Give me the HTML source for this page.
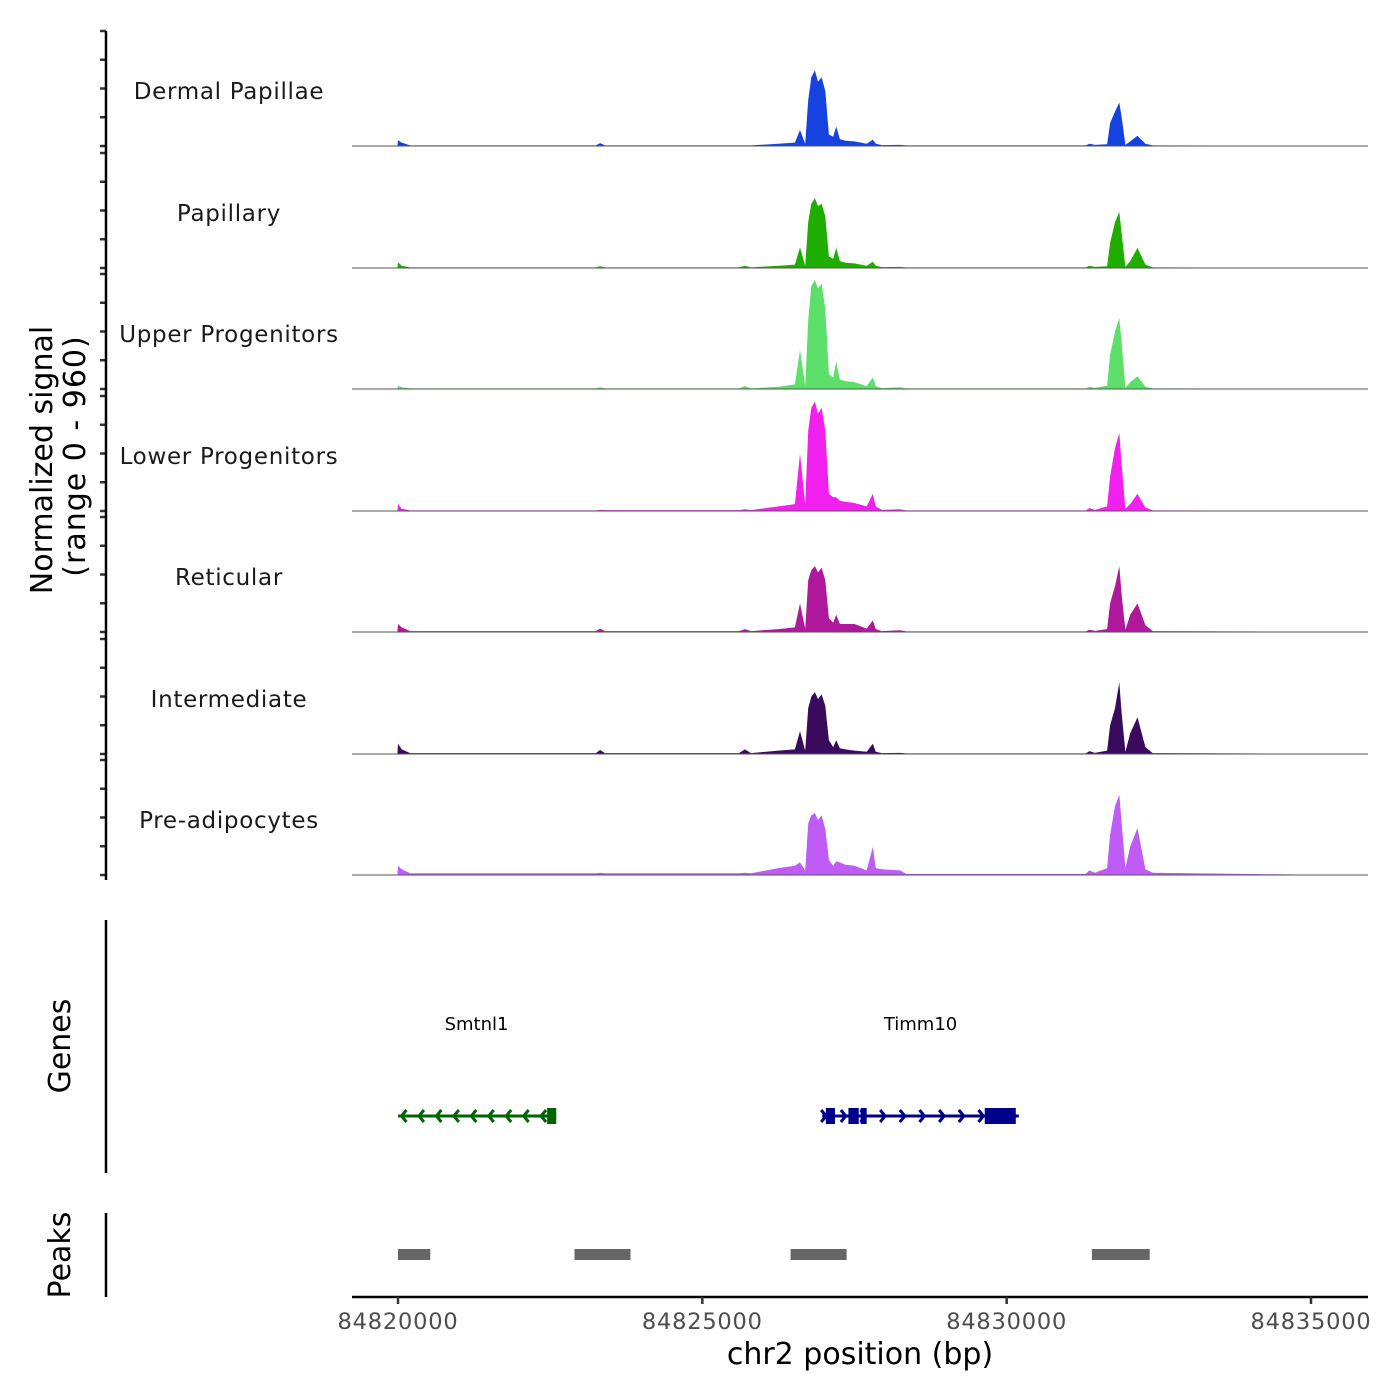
<!DOCTYPE html>
<html><head><meta charset="utf-8"><style>
html,body{margin:0;padding:0;background:#fff;}
svg{display:block;font-family:"DejaVu Sans","Liberation Sans",sans-serif;}
</style></head><body>
<svg id="c" width="1400" height="1400" viewBox="0 0 1400 1400"></svg>
<script>
const trackNames = ["Dermal Papillae","Papillary","Upper Progenitors","Lower Progenitors","Reticular","Intermediate","Pre-adipocytes"];
const trackColors = ["#1642e0","#1fae00","#5de06a","#f220ef","#b0189c","#3a0a5c","#c05cf6"];
const positions = [84819990,84820000,84820060,84820200,84823250,84823320,84823400,84825600,84825700,84825800,84826250,84826520,84826605,84826690,84826740,84826790,84826850,84826900,84826960,84827020,84827080,84827150,84827200,84827260,84827350,84827500,84827700,84827800,84827850,84827950,84828250,84828350,84831300,84831360,84831450,84831650,84831700,84831780,84831850,84831890,84831950,84832030,84832150,84832280,84832400,84835000];
const sigDermal = [0,50,30,5,5,25,5,5,5,5,20,30,140,20,400,600,660,560,600,480,100,80,170,60,45,40,20,55,20,8,10,5,5,20,10,15,200,300,380,250,10,40,90,20,5,3];
const sigPapillary = [0,50,20,5,5,15,5,5,20,5,20,30,180,20,400,560,610,540,560,450,100,80,175,60,45,40,20,55,20,8,10,5,5,20,10,15,220,400,490,300,10,60,175,30,5,3];
const sigUpper = [0,30,15,5,5,15,5,5,25,5,20,40,340,30,600,900,950,880,920,700,130,100,240,80,70,60,25,100,25,8,15,5,5,20,10,30,300,500,620,400,10,60,110,20,5,3];
const sigLower = [0,60,20,5,5,10,8,8,15,8,40,60,500,60,700,900,955,850,900,700,150,120,120,90,80,70,40,150,40,10,15,5,5,25,10,40,300,550,680,400,20,60,150,30,5,3];
const sigReticular = [0,70,40,8,8,30,8,8,25,8,25,40,250,30,450,540,575,520,560,450,120,80,150,70,70,70,30,100,25,8,15,5,5,20,10,25,250,400,575,320,20,150,250,60,8,3];
const sigIntermediate = [0,90,40,8,8,35,8,8,40,8,30,40,200,30,400,500,540,480,520,420,120,60,120,50,40,30,20,90,20,8,10,5,5,25,10,30,250,400,625,350,20,180,320,60,8,3];
const sigPreadipo = [0,80,50,15,15,20,15,15,20,15,60,80,110,40,450,520,540,480,520,400,130,80,120,110,90,80,40,245,60,50,40,10,10,40,20,60,350,600,700,450,60,250,410,50,20,3];
const signals = [sigDermal,sigPapillary,sigUpper,sigLower,sigReticular,sigIntermediate,sigPreadipo];
const xTicks = [84820000,84825000,84830000,84835000];
const peakStarts = [84820000,84822900,84826450,84831400];
const peakEnds = [84820530,84823820,84827370,84832350];
const genes = ["Smtnl1","Timm10"];
const geneStarts = [84820000,84826970];
const geneEnds = [84822580,84830200];
const geneStrand = [-1,1];
const exonStarts = [[84822450],[84827030,84827400,84827600,84829640]];
const exonEnds = [[84822600],[84827180,84827570,84827700,84830150]];

const NS="http://www.w3.org/2000/svg";
const svg=document.getElementById('c');
function el(t,a,p){const e=document.createElementNS(NS,t);for(const k in a)e.setAttribute(k,a[k]);(p||svg).appendChild(e);return e;}
const X0=84820000,PX0=398,PXPER=(1311-398)/15000;
function xs(bp){return PX0+(bp-X0)*PXPER;}
const baselines=[146,268,389,511,632,754,875];
const YMAX=960, HPX=110;
function ys(v,i){return baselines[i]-v/YMAX*HPX;}

for(let i=0;i<7;i++){
  const g=el('g',{});
  
  
  let d='M'+xs(positions[0])+','+baselines[i];
  for(let j=0;j<positions.length;j++)d+=' L'+xs(positions[j]).toFixed(1)+','+ys(signals[i][j],i).toFixed(1);
  d+=' L'+xs(positions[positions.length-1])+','+baselines[i]+' Z';
  const p=el('path',{d:d,fill:trackColors[i]},g);
  
  
  const bl=el('line',{x1:352,x2:1368,y1:baselines[i],y2:baselines[i],stroke:'#555','stroke-width':1},g);
  
  
  const t=el('text',{x:229,y:baselines[i]-47,'text-anchor':'middle','font-size':23,fill:'#1a1a1a','letter-spacing':'0.7'},g);
  t.textContent=trackNames[i];
  
  
  for(let k=0;k<5;k++){
    const y=baselines[i]-k*28.75;
    const tk=el('line',{x1:100,x2:106,y1:y,y2:y,stroke:'#333','stroke-width':2.5},g);
    
    
  }
}
[[31,880],[920,1173],[1213,1297]].forEach((r,i)=>{
  const l=el('line',{x1:106,x2:106,y1:r[0],y2:r[1],stroke:'#000','stroke-width':2.5});
  
  
});
let yt=el('text',{transform:'translate(52,460) rotate(-90)','text-anchor':'middle','font-size':30,fill:'#000'});
yt.textContent='Normalized signal';


let yt2=el('text',{transform:'translate(85,456) rotate(-90)','text-anchor':'middle','font-size':30,fill:'#000','letter-spacing':'1'});
yt2.textContent='(range 0 - 960)';


let gt=el('text',{transform:'translate(70,1046) rotate(-90)','text-anchor':'middle','font-size':30,fill:'#000'});
gt.textContent='Genes';


let pt=el('text',{transform:'translate(70,1255) rotate(-90)','text-anchor':'middle','font-size':30,fill:'#000'});
pt.textContent='Peaks';



const geneCols=['#006400','#00008b'];
for(let i=0;i<genes.length;i++){
  const g=el('g',{});
  
  
  const x1=xs(geneStarts[i]),x2=xs(geneEnds[i]),y=1116,c=geneCols[i];
  el('line',{x1:x1,x2:x2,y1:y,y2:y,stroke:c,'stroke-width':3},g);
  const n=geneStrand[i]<0?9:10;
  for(let k=0;k<n;k++){
    const ax=x1+(x2-x1)*(k+0.2)/n, s=-geneStrand[i];
    el('polyline',{points:(ax+5*s)+','+(y-6)+' '+ax+','+y+' '+(ax+5*s)+','+(y+6),fill:'none',stroke:c,'stroke-width':3},g);
  }
  for(let k=0;k<exonStarts[i].length;k++){
    const ex=el('rect',{x:xs(exonStarts[i][k]),y:y-8,width:Math.max(5,xs(exonEnds[i][k])-xs(exonStarts[i][k])),height:16,fill:c},g);
    
    
  }
  const lab=el('text',{x:(x1+x2)/2,y:1030,'text-anchor':'middle','font-size':18,fill:'#000'},g);
  lab.textContent=genes[i];
  
  
}
for(let i=0;i<peakStarts.length;i++){
  const r=el('rect',{x:xs(peakStarts[i]),y:1249,width:xs(peakEnds[i])-xs(peakStarts[i]),height:11,fill:'#666'});
  
  
}
const xa=el('line',{x1:352,x2:1368,y1:1297,y2:1297,stroke:'#000','stroke-width':2.5});


xTicks.forEach(v=>{
  const tk=el('line',{x1:xs(v),x2:xs(v),y1:1297,y2:1304,stroke:'#333','stroke-width':2.5});
  
  
  const t=el('text',{x:xs(v),y:1329,'text-anchor':'middle','font-size':22.5,fill:'#4d4d4d','letter-spacing':'0.8'});
  t.textContent=String(v);
  
  
});
const xt=el('text',{x:860,y:1364,'text-anchor':'middle','font-size':30,fill:'#000'});
xt.textContent='chr2 position (bp)';


</script>
</body></html>
